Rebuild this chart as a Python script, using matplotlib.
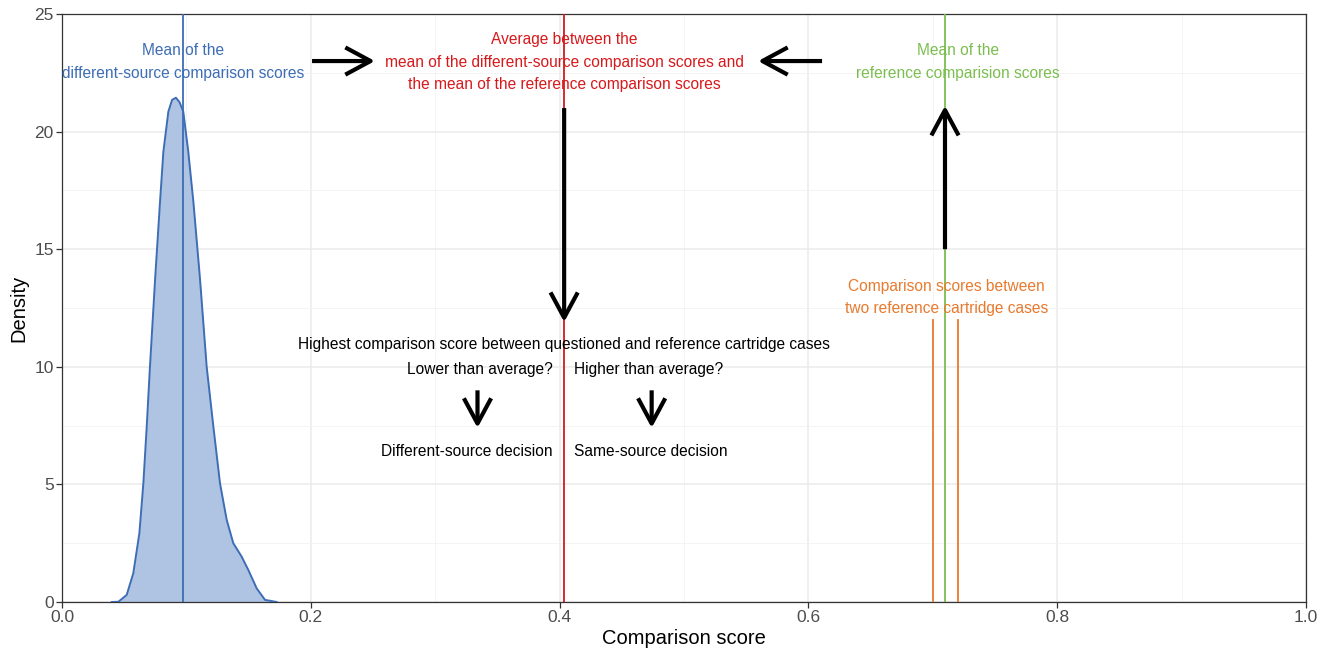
import numpy as np
import matplotlib
matplotlib.use("Agg")
import matplotlib.pyplot as plt
from matplotlib.ticker import MultipleLocator

plt.rcParams['font.family'] = ['Liberation Sans', 'DejaVu Sans']

# density of different-source comparison scores
density_x = [0.040, 0.0453, 0.052, 0.0573, 0.0622, 0.0654, 0.0681, 0.0707, 0.0748,
             0.0788, 0.0815, 0.0855, 0.0885, 0.0916, 0.0945, 0.0975, 0.1015,
             0.1056, 0.1109, 0.1163, 0.1217, 0.127, 0.1324, 0.1377, 0.1444, 0.1498,
             0.1565, 0.1632, 0.1726]
density_y = [0.0, 0.01, 0.30, 1.22, 2.92, 5.05, 7.45, 10.0, 13.69,
             17.02, 19.15, 20.85, 21.35, 21.44, 21.25, 20.85, 19.15,
             17.02, 13.76, 10.0, 7.45, 5.05, 3.49, 2.50, 1.93, 1.36,
             0.58, 0.09, 0.0]

mean_ds = 0.0975          # mean of different-source scores
mean_ref = 0.7098         # mean of reference scores
ref_scores = [0.700, 0.720]
average = (mean_ds + mean_ref) / 2

x_ticks = [0.0, 0.2, 0.4, 0.6, 0.8, 1.0]
x_tick_labels = ['0.0', '0.2', '0.4', '0.6', '0.8', '1.0']
y_ticks = [0, 5, 10, 15, 20, 25]

BLUE = '#3D6DB5'
FILL = '#AFC3E2'
RED = '#D7191C'
GREEN = '#7BBE4F'
ORANGE = '#E87A2E'

fig = plt.figure(figsize=(13.26, 6.54), dpi=100)
ax = fig.add_axes([62/1326, 1-602/654, 1244/1326, 588/654])

ax.set_xlim(0, 1)
ax.set_ylim(0, 25)
ax.set_xticks(x_ticks)
ax.set_xticklabels(x_tick_labels)
ax.set_yticks(y_ticks)
ax.xaxis.set_minor_locator(MultipleLocator(0.1))
ax.yaxis.set_minor_locator(MultipleLocator(2.5))
ax.grid(which='major', color='#EBEBEB', lw=1.1, zorder=0)
ax.grid(which='minor', color='#F2F2F2', lw=0.6, zorder=0)
ax.set_axisbelow(True)
ax.tick_params(which='minor', length=0)
ax.tick_params(which='major', length=4, width=0.9, color='#333333',
               labelcolor='#4D4D4D', labelsize=12.5, pad=2)
for s in ax.spines.values():
    s.set_color('#333333')
    s.set_linewidth(0.9)

ax.fill_between(density_x, density_y, 0, color=FILL, lw=0, zorder=2)
ax.plot(density_x, density_y, color=BLUE, lw=1.4, zorder=3, solid_joinstyle='round')

ax.axvline(mean_ds, color=BLUE, lw=1.3, zorder=4)
ax.axvline(average, color=RED, lw=1.3, zorder=4)
ax.axvline(mean_ref, color=GREEN, lw=1.3, zorder=4)
for r in ref_scores:
    ax.plot([r, r], [0, 12], color=ORANGE, lw=1.3, zorder=4)

fs = 11.2
ls = 1.64
ax.text(mean_ds, 22.95, 'Mean of the\ndifferent-source comparison scores', color=BLUE,
        ha='center', va='center', fontsize=fs, linespacing=ls, zorder=5)
ax.text(average, 22.95, 'Average between the\nmean of the different-source comparison scores and\nthe mean of the reference comparison scores',
        color=RED, ha='center', va='center', fontsize=fs, linespacing=ls, zorder=5)
ax.text(0.72, 22.95, 'Mean of the\nreference comparision scores', color=GREEN,
        ha='center', va='center', fontsize=fs, linespacing=ls, zorder=5)
ax.text(0.711, 12.95, 'Comparison scores between\ntwo reference cartridge cases', color=ORANGE,
        ha='center', va='center', fontsize=fs, linespacing=ls, zorder=5)
ax.text(average, 10.95, 'Highest comparison score between questioned and reference cartridge cases',
        color='black', ha='center', va='center', fontsize=fs, zorder=5)
ax.text(average - 0.009, 9.9, 'Lower than average?', ha='right', va='center', fontsize=fs, zorder=5)
ax.text(average + 0.008, 9.9, 'Higher than average?', ha='left', va='center', fontsize=fs, zorder=5)
ax.text(average - 0.009, 6.4, 'Different-source decision', ha='right', va='center', fontsize=fs, zorder=5)
ax.text(average + 0.008, 6.4, 'Same-source decision', ha='left', va='center', fontsize=fs, zorder=5)

def arrow(x0, y0, x1, y1):
    ax.annotate('', xy=(x1, y1), xytext=(x0, y0),
                arrowprops=dict(arrowstyle='->,head_length=1.3,head_width=0.7',
                                mutation_scale=14, capstyle='butt',
                                color='black', lw=3.0, shrinkA=0, shrinkB=0),
                zorder=6)

arrow(0.201, 23, 0.2516, 23)
arrow(0.611, 23, 0.5595, 23)
arrow(average, 21, average, 11.9)
arrow(mean_ref, 15, mean_ref, 21.1)
arrow(0.334, 9.0, 0.334, 7.4)
arrow(0.474, 9.0, 0.474, 7.4)

ax.set_xlabel('Comparison score', fontsize=14.5, labelpad=3)
ax.set_ylabel('Density', fontsize=14.5, labelpad=4)

fig.savefig('out.png', dpi=100)
